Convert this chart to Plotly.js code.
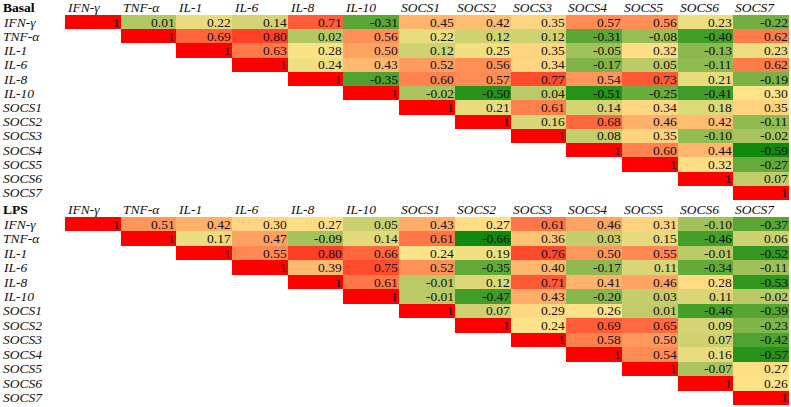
<!DOCTYPE html>
<html>
<head>
<meta charset="utf-8">
<script src="https://cdn.plot.ly/plotly-3.0.1.min.js"></script>
<style>html,body{margin:0;padding:0;background:#fff;}#chart{width:791px;height:407px;}</style>
</head>
<body>
<div id="chart"></div>
<script>
// ---- data ----
const genes = ["IFN-γ","TNF-α","IL-1","IL-6","IL-8","IL-10","SOCS1","SOCS2","SOCS3","SOCS4","SOCS5","SOCS6","SOCS7"];
// upper triangle rows, each starting at the diagonal
const basalRows = [
  [1, 0.01, 0.22, 0.14, 0.71, -0.31, 0.45, 0.42, 0.35, 0.57, 0.56, 0.23, -0.22],
  [1, 0.69, 0.80, 0.02, 0.56, 0.22, 0.12, 0.12, -0.31, -0.08, -0.40, 0.62],
  [1, 0.63, 0.28, 0.50, 0.12, 0.25, 0.35, -0.05, 0.32, -0.13, 0.23],
  [1, 0.24, 0.43, 0.52, 0.56, 0.34, -0.17, 0.05, -0.11, 0.62],
  [1, -0.35, 0.60, 0.57, 0.77, 0.54, 0.73, 0.21, -0.19],
  [1, -0.02, -0.50, 0.04, -0.51, -0.25, -0.41, 0.30],
  [1, 0.21, 0.61, 0.14, 0.34, 0.18, 0.35],
  [1, 0.16, 0.68, 0.46, 0.42, -0.11],
  [1, 0.08, 0.35, -0.10, -0.02],
  [1, 0.60, 0.44, -0.59],
  [1, 0.32, -0.27],
  [1, 0.07],
  [1]
];
const lpsRows = [
  [1, 0.51, 0.42, 0.30, 0.27, 0.05, 0.43, 0.27, 0.61, 0.46, 0.31, -0.10, -0.37],
  [1, 0.17, 0.47, -0.09, 0.14, 0.61, -0.66, 0.36, 0.03, 0.15, -0.46, 0.06],
  [1, 0.55, 0.80, 0.66, 0.24, 0.19, 0.76, 0.50, 0.55, -0.01, -0.52],
  [1, 0.39, 0.75, 0.52, -0.35, 0.40, -0.17, 0.11, -0.34, -0.11],
  [1, 0.61, -0.01, 0.12, 0.71, 0.41, 0.46, 0.28, -0.53],
  [1, -0.01, -0.47, 0.43, -0.20, 0.03, 0.11, -0.02],
  [1, 0.07, 0.29, 0.26, 0.01, -0.46, -0.39],
  [1, 0.24, 0.69, 0.65, 0.09, -0.23],
  [1, 0.58, 0.50, 0.07, -0.42],
  [1, 0.54, 0.16, -0.57],
  [1, -0.07, 0.27],
  [1, 0.26],
  [1]
];
const panelTitles = ["Basal", "LPS"];

// ---- style ----
const W = 791, H = 407;
const FONT = "'Liberation Serif', 'Times New Roman', serif";
const FS = 13.5;
const colLeft = 65, colRight = 789;
const panels = [
  {rows: basalRows, top: 15, bottom: 200, mid: 0.30, yax: "y"},
  {rows: lpsRows, top: 217, bottom: 405, mid: 0.25, yax: "y2"}
];
const n = genes.length;

function toMatrix(rows){
  return rows.map((r,i)=>{
    const full = new Array(n).fill(null);
    r.forEach((v,k)=>{ full[i+k] = v; });
    return full;
  });
}

const traces = [];
const annotations = [];
const layout = {
  width: W, height: H,
  margin: {l:0, r:0, t:0, b:0},
  paper_bgcolor: "#fff", plot_bgcolor: "#fff",
  showlegend: false,
  hovermode: false,
  xaxis: {domain: [colLeft/W, colRight/W], range: [-0.5, n-0.5], showgrid:false, zeroline:false, showticklabels:false, ticks:"", fixedrange:true},
  annotations: annotations
};

panels.forEach((p, pi)=>{
  const z = toMatrix(p.rows);
  const flat = z.flat().filter(v=>v!==null);
  const zmin = Math.min(...flat), zmax = Math.max(...flat);
  const midFrac = (p.mid - zmin)/(zmax - zmin);
  const rowH = (p.bottom - p.top)/n;
  const domTop = p.top - rowH; // header row
  const axName = pi===0 ? "yaxis" : "yaxis2";
  layout[axName] = {
    domain: [1 - p.bottom/H, 1 - domTop/H],
    range: [n-0.5, -1.5],
    showgrid:false, zeroline:false, showticklabels:false, ticks:"", fixedrange:true,
    anchor: "x"
  };
  traces.push({
    type: "heatmap",
    z: z,
    x: genes.map((g,i)=>i),
    y: genes.map((g,i)=>i),
    xaxis: "x", yaxis: p.yax,
    zmin: zmin, zmax: zmax,
    colorscale: [[0, "#0f8a0f"], [midFrac, "#ffe48a"], [1, "#ff0000"]],
    showscale: false,
    hoverinfo: "skip",
    xgap: 0, ygap: 0
  });
  // panel title
  annotations.push({xref:"paper", yref:p.yax, x: 1/W, y: -1, xanchor:"left", yanchor:"middle",
    text: "<b>"+panelTitles[pi]+"</b>", showarrow:false, font:{family:FONT, size:FS, color:"#000"}});
  // column headers
  genes.forEach((g,i)=>{
    annotations.push({xref:"x", yref:p.yax, x: i-0.5, y: -1, xanchor:"left", yanchor:"middle", xshift: 0,
      text: "<i>"+g+"</i>", showarrow:false, font:{family:FONT, size:FS, color:"#111"}});
  });
  // row labels
  genes.forEach((g,i)=>{
    annotations.push({xref:"paper", yref:p.yax, x: 1/W, y: i, xanchor:"left", yanchor:"middle",
      text: "<i>"+g+"</i>", showarrow:false, font:{family:FONT, size:FS, color:"#111"}});
  });
  // values
  z.forEach((row,i)=>{
    row.forEach((v,j)=>{
      if (v===null) return;
      const txt = (v===1) ? "1" : v.toFixed(2);
      annotations.push({xref:"x", yref:p.yax, x: j+0.5, y: i, xanchor:"right", yanchor:"middle", xshift:1,
        text: txt, showarrow:false, font:{family:FONT, size:FS, color:"#111"}});
    });
  });
});

Plotly.newPlot("chart", traces, layout, {displayModeBar:false, staticPlot:true});
</script>
</body>
</html>
